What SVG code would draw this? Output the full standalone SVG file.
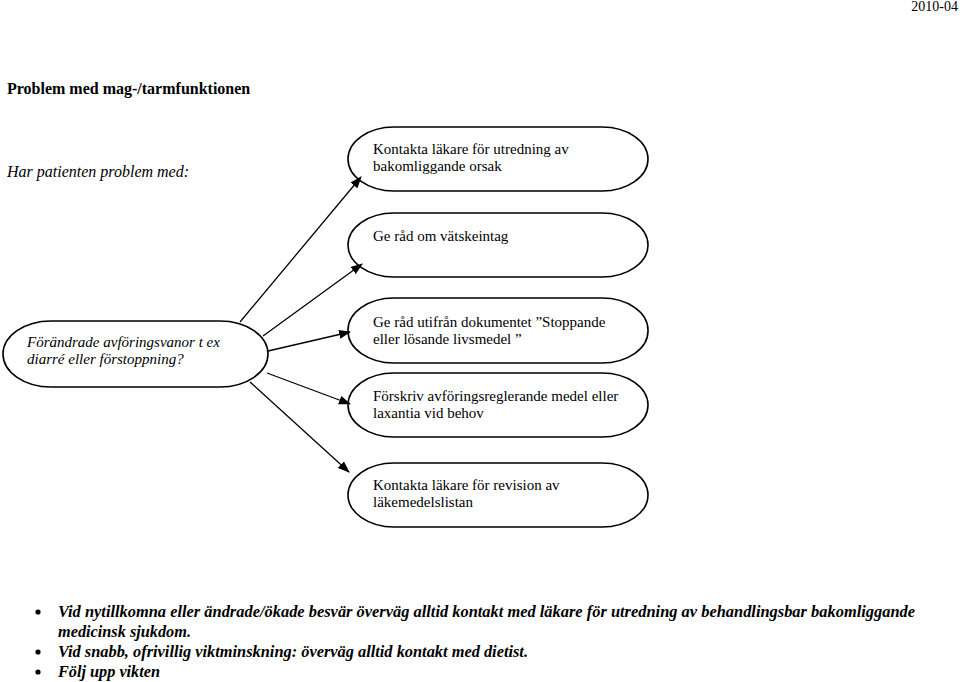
<svg xmlns="http://www.w3.org/2000/svg" width="960" height="682" viewBox="0 0 960 682" font-family="'Liberation Serif', 'DejaVu Serif', serif">
<style>
text{font-family:'Liberation Serif','DejaVu Serif',serif;fill:#000}
.pill{fill:#fff;stroke:#000;stroke-width:1.6}
.t{font-size:15px}
.it{font-style:italic}
.bl{font-size:16px;font-weight:bold;font-style:italic}
.conn line{stroke:#000;stroke-width:1.3;marker-end:url(#ah)}
</style>
<defs>
<marker id="ah" markerWidth="12" markerHeight="9" refX="11" refY="4.5" orient="auto" markerUnits="userSpaceOnUse">
<path d="M0,0 L12,4.5 L0,9 z" fill="#000"/>
</marker>
</defs>
<rect width="960" height="682" fill="#fff"/>
<text x="958" y="11" font-size="14" text-anchor="end">2010-04</text>
<text x="7" y="94" font-size="16" font-weight="bold">Problem med mag-/tarmfunktionen</text>
<text x="7" y="177" font-size="16" class="it">Har patienten problem med:</text>

<g id="n0">
<rect class="pill" x="3" y="321" width="265" height="66" rx="48" ry="33"/>
<text class="t it" x="27" y="347">Förändrade avföringsvanor t ex</text>
<text class="t it" x="27" y="364">diarré eller förstoppning?</text>
</g>
<g id="n1">
<rect class="pill" x="348" y="127" width="300" height="64" rx="46" ry="32"/>
<text class="t" x="373" y="154">Kontakta läkare för utredning av</text>
<text class="t" x="373" y="171">bakomliggande orsak</text>
</g>
<g id="n2">
<rect class="pill" x="348" y="213" width="300" height="64" rx="46" ry="32"/>
<text class="t" x="373" y="241">Ge råd om vätskeintag</text>
</g>
<g id="n3">
<rect class="pill" x="348" y="298" width="300" height="65" rx="46" ry="32"/>
<text class="t" x="373" y="327">Ge råd utifrån dokumentet ”Stoppande</text>
<text class="t" x="373" y="344">eller lösande livsmedel ”</text>
</g>
<g id="n4">
<rect class="pill" x="348" y="373" width="300" height="64" rx="46" ry="32"/>
<text class="t" x="373" y="401">Förskriv avföringsreglerande medel eller</text>
<text class="t" x="373" y="418">laxantia vid behov</text>
</g>
<g id="n5">
<rect class="pill" x="348" y="463" width="300" height="64" rx="46" ry="32"/>
<text class="t" x="373" y="490">Kontakta läkare för revision av</text>
<text class="t" x="373" y="507">läkemedelslistan</text>
</g>

<g class="conn">
<line x1="240" y1="322" x2="361" y2="177"/>
<line x1="263" y1="336" x2="362" y2="264"/>
<line x1="268" y1="351" x2="350" y2="332"/>
<line x1="267" y1="373" x2="350" y2="404"/>
<line x1="250" y1="382" x2="349" y2="472"/>
</g>

<g id="notes">
<circle cx="38" cy="612" r="2.6" fill="#000"/>
<circle cx="38" cy="652" r="2.6" fill="#000"/>
<circle cx="38" cy="672" r="2.6" fill="#000"/>
<text class="bl" x="58" y="617" textLength="857" lengthAdjust="spacingAndGlyphs">Vid nytillkomna eller ändrade/ökade besvär överväg alltid kontakt med läkare för utredning av behandlingsbar bakomliggande</text>
<text class="bl" x="58" y="637" textLength="133" lengthAdjust="spacingAndGlyphs">medicinsk sjukdom.</text>
<text class="bl" x="58" y="657" textLength="470" lengthAdjust="spacingAndGlyphs">Vid snabb, ofrivillig viktminskning: överväg alltid kontakt med dietist.</text>
<text class="bl" x="58" y="677" textLength="102" lengthAdjust="spacingAndGlyphs">Följ upp vikten</text>
</g>
</svg>
